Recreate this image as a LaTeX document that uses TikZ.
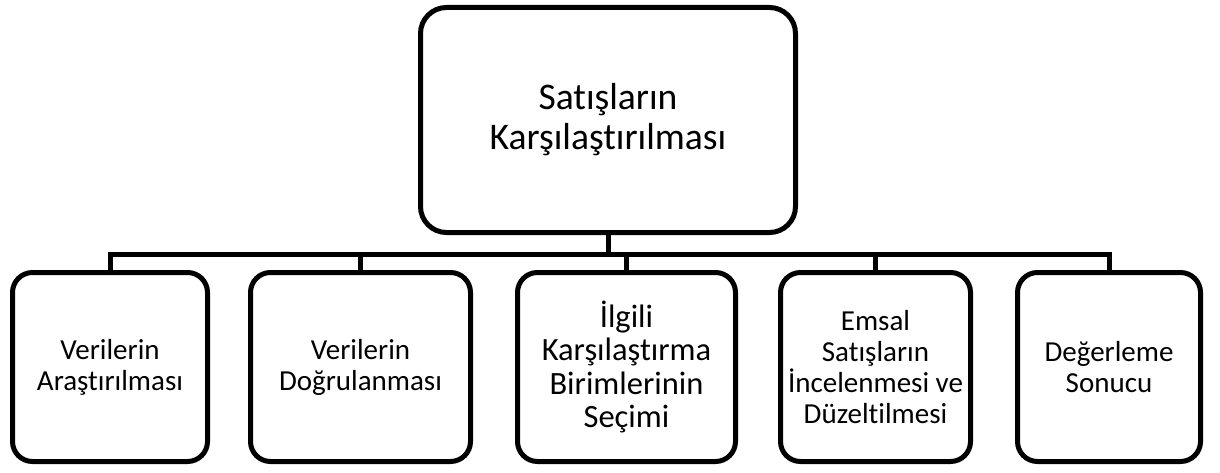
\documentclass[tikz,border=0pt]{standalone}
\usepackage{fontspec}
\setmainfont{Carlito}[Ligatures={NoCommon}]
\usetikzlibrary{positioning}

\begin{document}
\begin{tikzpicture}[x=1pt,y=1pt,
  topbox/.style={draw,line width=5pt,rounded corners=26pt,minimum width=375pt,minimum height=225pt,align=center,font=\fontsize{37.6}{40}\selectfont},
  box/.style={draw,line width=5pt,rounded corners=20pt,minimum height=189pt,align=center,inner sep=2pt,font=\fontsize{29}{31}\selectfont},
  conn/.style={line width=5pt}]
\useasboundingbox (0,0) rectangle (1220,-473);
\node[topbox] (top) at (608,-120) {Satışların\\Karşılaştırılması};
\node[box,minimum width=195pt] (arast) at (110,-367) {Verilerin\\Araştırılması};
\node[box,minimum width=220pt,right=38pt of arast] (dogru) {Verilerin\\Doğrulanması};
\node[box,minimum width=218pt,right=42pt of dogru,font=\fontsize{32.5}{33.5}\selectfont] (birim) {İlgili\\Karşılaştırma\\Birimlerinin\\Seçimi};
\node[box,minimum width=190pt,right=40pt of birim] (emsal) {Emsal\\Satışların\\İncelenmesi ve\\Düzeltilmesi};
\node[box,minimum width=183pt,right=42pt of emsal] (sonuc) {Değerleme\\Sonucu};
\foreach \child in {arast,dogru,birim,emsal,sonuc}
  \draw[conn] (top.south) |- ([yshift=16pt]\child.north) -- (\child.north);
\end{tikzpicture}
\end{document}
